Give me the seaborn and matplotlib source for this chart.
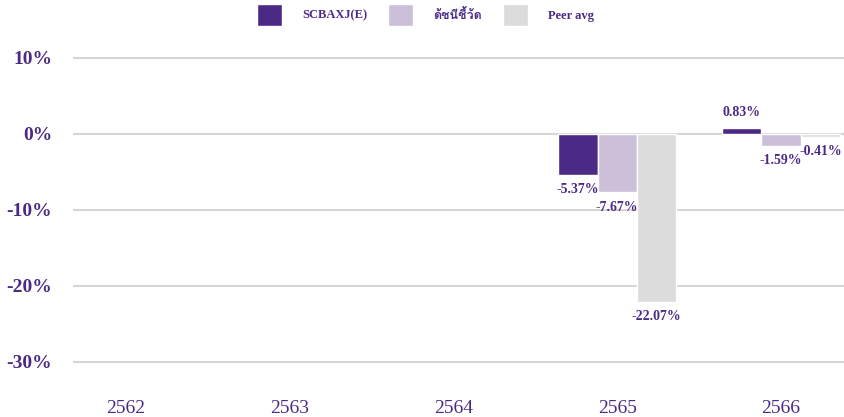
import numpy as np
import pandas as pd
import matplotlib
matplotlib.use('Agg')
import matplotlib.pyplot as plt
import seaborn as sns
from matplotlib import font_manager
from fontTools.ttLib import TTFont

years = ['2562', '2563', '2564', '2565', '2566']
series = ['SCBAXJ(E)', 'ดัชนีชี้วัด', 'Peer avg']
fund = [np.nan, np.nan, np.nan, -5.37, 0.83]
benchmark = [np.nan, np.nan, np.nan, -7.67, -1.59]
peer = [np.nan, np.nan, np.nan, -22.07, -0.41]
colors = ['#4B2A85', '#CBBFDA', '#DCDCDC']
text_color = '#4B2A85'

# find any installed font that has Thai glyphs (ด)
thai_font = None
for f in font_manager.fontManager.ttflist:
    try:
        cmap = TTFont(f.fname, fontNumber=0, lazy=True).getBestCmap()
    except Exception:
        continue
    if cmap and 0x0E14 in cmap:
        thai_font = f.name
        break
families = ['Liberation Serif'] + ([thai_font] if thai_font else []) + ['DejaVu Sans']

df = pd.DataFrame({'year': years, series[0]: fund, series[1]: benchmark, series[2]: peer})
df = df.melt(id_vars='year', var_name='series', value_name='value').dropna()

sns.set_style('white')
plt.rcParams['font.family'] = families

fig = plt.figure(figsize=(8.45, 4.17), dpi=100)
ax = fig.add_axes([0.0864, 0.1137, 0.9136, 0.7746])

sns.barplot(data=df, x='year', y='value', hue='series', order=years, hue_order=series,
            palette=colors, width=0.72, saturation=1, errorbar=None, ax=ax)

for c in ax.containers:
    ax.bar_label(c, fmt='{:.2f}%', padding=6, fontsize=10, fontweight='bold', color=text_color)

ax.set_xlim(-0.32, 4.39)
ax.set_ylim(-31, 11.5)
ax.set_yticks([-30, -20, -10, 0, 10])
ax.set_yticklabels([f'{v}%' for v in [-30, -20, -10, 0, 10]])
ax.yaxis.grid(True, color='#D6D6D6', lw=1.5)
ax.set_axisbelow(True)
sns.despine(ax=ax, left=True, bottom=True)
ax.set_xlabel('')
ax.set_ylabel('')
ax.tick_params(axis='y', length=0, pad=15, labelsize=14, labelcolor=text_color)
ax.tick_params(axis='x', length=0, pad=22, labelsize=14, labelcolor=text_color)
for t in ax.get_yticklabels():
    t.set_fontweight('bold')

sns.move_legend(ax, 'center', bbox_to_anchor=(0.457, 1.098), ncol=3, frameon=False, title=None,
                prop=dict(family=families, weight='bold', size=9), labelcolor=text_color,
                handlelength=2.0, handleheight=2.4, handletextpad=1.6, columnspacing=1.7)

fig.savefig('out.png', dpi=100)
